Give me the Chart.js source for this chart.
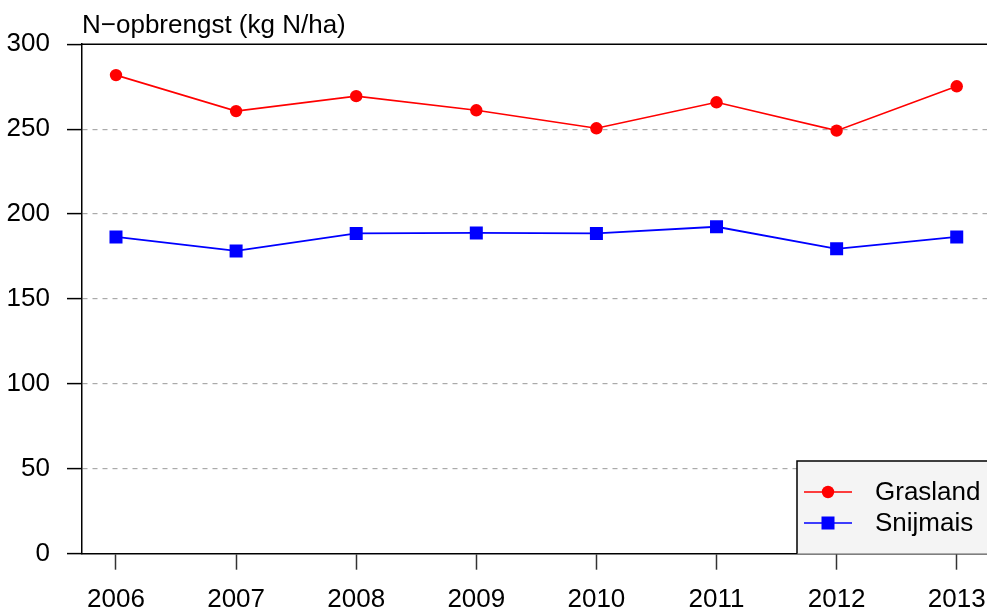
<!DOCTYPE html>
<html>
<head>
<meta charset="utf-8">
<script src="https://cdn.jsdelivr.net/npm/chart.js@4.4.0/dist/chart.umd.min.js"></script>
<style>
  body { margin: 0; background: #fff; }
  canvas { display: block; }
</style>
</head>
<body>
<canvas id="myChart" width="987" height="613"></canvas>
<script>
const years = [2006, 2007, 2008, 2009, 2010, 2011, 2012, 2013];
const grasland = [281.8, 260.6, 269.4, 261.1, 250.5, 265.8, 249.1, 275.2];
const snijmais = [186.5, 178.3, 188.6, 188.9, 188.6, 192.5, 179.5, 186.5];
const yTicks = [0, 50, 100, 150, 200, 250, 300];

const FONT = "'Liberation Sans', Arial, Helvetica, sans-serif";

// top border line + legend box, R style
const extras = {
    id: 'extras',
    afterDraw(chart) {
        const ctx = chart.ctx;
        const a = chart.chartArea;
        ctx.save();
        ctx.strokeStyle = '#000';
        ctx.lineWidth = 1.5;
        ctx.beginPath();
        ctx.moveTo(a.left, a.top);
        ctx.lineTo(a.right + 2, a.top);
        ctx.stroke();

        // legend
        const bx = 797, by = 461;
        ctx.fillStyle = '#f4f4f4';
        ctx.fillRect(bx, by, a.right - bx + 5, a.bottom - by);
        ctx.strokeStyle = '#000';
        ctx.lineWidth = 1.5;
        ctx.beginPath();
        ctx.moveTo(bx, a.bottom);
        ctx.lineTo(bx, by);
        ctx.lineTo(a.right + 5, by);
        ctx.stroke();

        const rows = [492, 523];
        chart.data.datasets.forEach((ds, i) => {
            const y = rows[i];
            ctx.strokeStyle = ds.borderColor;
            ctx.lineWidth = 1.6;
            ctx.beginPath();
            ctx.moveTo(804, y);
            ctx.lineTo(852, y);
            ctx.stroke();
            ctx.fillStyle = ds.pointBackgroundColor;
            if (ds.pointStyle === 'rect') {
                ctx.fillRect(828 - 6.5, y - 6.5, 13, 13);
            } else {
                ctx.beginPath();
                ctx.arc(828, y, 6.2, 0, Math.PI * 2);
                ctx.fill();
            }
            ctx.fillStyle = '#000';
            ctx.font = '26px ' + FONT;
            ctx.textBaseline = 'middle';
            ctx.textAlign = 'left';
            ctx.fillText(ds.label, 875, y + 1);
        });
        ctx.restore();
    }
};

const ctx1 = document.getElementById('myChart').getContext('2d');
const myChart = new Chart(ctx1, {
    type: 'line',
    data: {
        datasets: [{
            label: 'Grasland',
            data: years.map((x, i) => ({ x: x, y: grasland[i] })),
            borderColor: '#ff0000',
            backgroundColor: '#ff0000',
            pointBackgroundColor: '#ff0000',
            pointBorderWidth: 0,
            pointStyle: 'circle',
            pointRadius: 6.2,
            borderWidth: 1.6
        }, {
            label: 'Snijmais',
            data: years.map((x, i) => ({ x: x, y: snijmais[i] })),
            borderColor: '#0000ff',
            backgroundColor: '#0000ff',
            pointBackgroundColor: '#0000ff',
            pointBorderWidth: 0,
            pointStyle: 'rect',
            pointRadius: 9.2,
            borderWidth: 1.8
        }]
    },
    options: {
        responsive: false,
        animation: false,
        layout: { padding: 0, autoPadding: false },
        plugins: {
            legend: { display: false },
            tooltip: { enabled: false },
            title: {
                display: true,
                text: 'N\u2212opbrengst (kg N/ha)',
                align: 'start',
                fullSize: false,
                color: '#000',
                font: { family: FONT, size: 26, weight: 'normal' },
                padding: { top: 10, bottom: 3 }
            }
        },
        scales: {
            x: {
                type: 'linear',
                min: 2005.717,
                max: 2013.252,
                afterBuildTicks: (axis) => { axis.ticks = years.map(v => ({ value: v })); },
                afterFit: (axis) => { axis.height = 59.3; axis.paddingRight = 0; axis.paddingLeft = 0; },
                grid: {
                    drawOnChartArea: false,
                    drawTicks: true,
                    tickLength: 16,
                    tickColor: '#333',
                    tickWidth: 1.5
                },
                border: { display: true, color: '#000', width: 1.5 },
                ticks: {
                    color: '#000',
                    padding: 15,
                    maxRotation: 0,
                    autoSkip: false,
                    font: { family: FONT, size: 26 },
                    callback: (v) => String(v)
                }
            },
            y: {
                min: 0,
                max: 300,
                afterBuildTicks: (axis) => { axis.ticks = yTicks.map(v => ({ value: v })); },
                afterFit: (axis) => { axis.width = 82; },
                grid: {
                    color: (c) => (c.tick && (c.tick.value === 0 || c.tick.value === 300)) ? 'rgba(0,0,0,0)' : '#aaaaaa',
                    lineWidth: 1.2,
                    tickLength: 15,
                    tickColor: '#000',
                    tickWidth: 1.5,
                    tickBorderDash: []
                },
                border: { display: true, color: '#000', width: 1.5, dash: [5, 5] },
                ticks: {
                    color: '#000',
                    padding: 17,
                    font: { family: FONT, size: 26 }
                }
            }
        }
    },
    plugins: [extras]
});
</script>
</body>
</html>
